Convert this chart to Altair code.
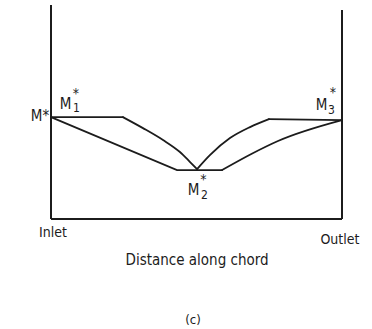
import altair as alt
import pandas as pd

# Upper curve (branch 1): distance along chord (0..1) vs Mach number (M* = 1)
# split into straight runs and curved runs
up_flat_l_x = [0.0, 0.247]
up_flat_l_y = [1.0, 1.0]
up_curve_l_x = [0.247, 0.316, 0.385, 0.443, 0.478, 0.502]
up_curve_l_y = [1.0, 0.892, 0.775, 0.657, 0.559, 0.49]
up_curve_r_x = [0.502, 0.546, 0.615, 0.684, 0.749]
up_curve_r_y = [0.49, 0.627, 0.794, 0.902, 0.98]
up_flat_r_x = [0.749, 1.0]
up_flat_r_y = [0.98, 0.97]

# Lower curve (branch 2)
low_straight_x = [0.0, 0.433, 0.588]
low_straight_y = [1.0, 0.48, 0.48]
low_curve_x = [0.588, 0.690, 0.780, 1.0]
low_curve_y = [0.48, 0.64, 0.765, 0.97]

# Label pieces (text, x, y, size)
lab_text = ["M*", "M", "1", "*", "M", "2", "*", "M", "3", "*"]
lab_x = [-0.006, 0.0498, 0.0876, 0.0859, 0.490, 0.527, 0.524, 0.930, 0.964, 0.969]
lab_y = [1.01, 1.127, 1.085, 1.23, 0.284, 0.24, 0.385, 1.118, 1.072, 1.24]
lab_size = [15, 15, 12, 14, 15, 12, 14, 15, 12, 14]
lab_align = ["right", "center", "center", "center", "center", "center", "center", "center", "center", "center"]

# Captions below
cap_text = ["Inlet", "Outlet", "Distance along chord", "(c)"]
cap_x = [0.007, 0.993, 0.502, 0.488]
cap_y = [-0.137, -0.21, -0.40, -0.99]
cap_size = [14, 14, 15, 13]

FONT = "DejaVu Sans Condensed"
INK = "#1c1c1c"


def seg(xs_, ys_, name, interp):
    return pd.DataFrame({"x": xs_, "y": ys_, "seg": name, "interp": interp,
                         "i": list(range(len(xs_)))})


lines = pd.concat([
    seg(up_flat_l_x, up_flat_l_y, "ufl", "linear"),
    seg(up_curve_l_x, up_curve_l_y, "ucl", "monotone"),
    seg(up_curve_r_x, up_curve_r_y, "ucr", "monotone"),
    seg(up_flat_r_x, up_flat_r_y, "ufr", "linear"),
    seg(low_straight_x, low_straight_y, "ls", "linear"),
    seg(low_curve_x, low_curve_y, "lc", "monotone"),
], ignore_index=True)

labels = pd.DataFrame({"t": lab_text, "x": lab_x, "y": lab_y, "s": lab_size, "a": lab_align})
caps = pd.DataFrame({"t": cap_text, "x": cap_x, "y": cap_y, "s": cap_size})

xs = alt.Scale(domain=[0, 1])
ys = alt.Scale(domain=[0, 2.1])

frame = pd.DataFrame({
    "x": [0.0, 1.0, 0.0],
    "x2": [0.0, 1.0, 1.0],
    "y": [2.1, 2.05, 0.0],
    "y2": [0.0, 0.0, 0.0],
})

frame_layer = alt.Chart(frame).mark_rule(color=INK, strokeWidth=2).encode(
    x=alt.X("x:Q", scale=xs, axis=None),
    x2="x2:Q",
    y=alt.Y("y:Q", scale=ys, axis=None),
    y2="y2:Q",
)


def line_layer(interp):
    return alt.Chart(lines[lines["interp"] == interp]).mark_line(
        color=INK, strokeWidth=1.8, clip=False, interpolate=interp, strokeCap="round"
    ).encode(
        x=alt.X("x:Q", scale=xs, axis=None),
        y=alt.Y("y:Q", scale=ys, axis=None),
        detail="seg:N",
        order="i:Q",
    )


label_left = alt.Chart(labels[labels["a"] == "right"]).mark_text(
    font=FONT, color=INK, align="right", baseline="middle"
).encode(
    x=alt.X("x:Q", scale=xs, axis=None),
    y=alt.Y("y:Q", scale=ys, axis=None),
    text="t:N",
    size=alt.Size("s:Q", scale=None, legend=None),
)

label_center = alt.Chart(labels[labels["a"] == "center"]).mark_text(
    font=FONT, color=INK, align="center", baseline="middle"
).encode(
    x=alt.X("x:Q", scale=xs, axis=None),
    y=alt.Y("y:Q", scale=ys, axis=None),
    text="t:N",
    size=alt.Size("s:Q", scale=None, legend=None),
)

cap_layer = alt.Chart(caps).mark_text(
    font=FONT, color=INK, align="center", baseline="middle"
).encode(
    x=alt.X("x:Q", scale=xs, axis=None),
    y=alt.Y("y:Q", scale=ys, axis=None),
    text="t:N",
    size=alt.Size("s:Q", scale=None, legend=None),
)

chart = alt.layer(
    frame_layer, line_layer("linear"), line_layer("monotone"),
    label_left, label_center, cap_layer
).properties(
    width=291,
    height=214,
    autosize=alt.AutoSizeParams(type="none"),
    padding={"left": 51, "top": 5, "right": 30, "bottom": 110},
    background="white",
).configure_view(stroke=None)

chart.save("out.html", embed_options={"renderer": "svg", "actions": False})
